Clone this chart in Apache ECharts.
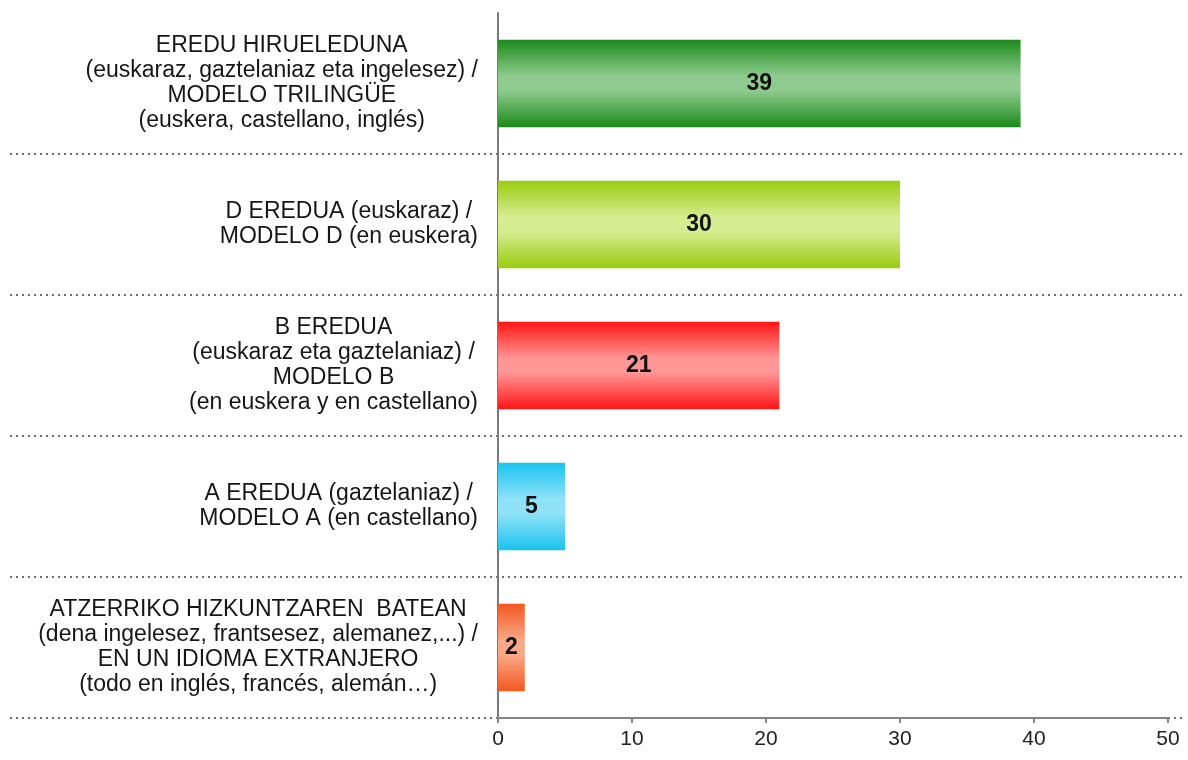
<!DOCTYPE html>
<html>
<head>
<meta charset="utf-8">
<script src="https://cdn.jsdelivr.net/npm/echarts@6/dist/echarts.min.js"></script>
<style>
  html, body { margin: 0; padding: 0; background: #ffffff; }
  #chart { width: 1188px; height: 760px; }
</style>
</head>
<body>
<div id="chart"></div>
<script>
// categorias (de arriba abajo)
var categories = [
  "EREDU HIRUELEDUNA\n(euskaraz, gaztelaniaz eta ingelesez) /\nMODELO TRILINGÜE\n(euskera, castellano, inglés)",
  "D EREDUA (euskaraz) /\nMODELO D (en euskera)",
  "B EREDUA\n(euskaraz eta gaztelaniaz) /\nMODELO B\n(en euskera y en castellano)",
  "A EREDUA (gaztelaniaz) /\nMODELO A (en castellano)",
  "ATZERRIKO HIZKUNTZAREN  BATEAN\n(dena ingelesez, frantsesez, alemanez,...) /\nEN UN IDIOMA EXTRANJERO\n(todo en inglés, francés, alemán…)"
];
var values = [39, 30, 21, 5, 2];
var xTicks = [0, 10, 20, 30, 40, 50];

// colores de borde / centro de cada barra
var edgeColors = ["#1b8a1b", "#99cc11", "#ff1515", "#19c3ef", "#f4571f"];
var midColors = ["#8fcb8f", "#d6ec90", "#ff9696", "#90e2f8", "#f9a888"];

function barGradient(i) {
  return new echarts.graphic.LinearGradient(0, 0, 0, 1, [
    { offset: 0, color: edgeColors[i] },
    { offset: 0.42, color: midColors[i] },
    { offset: 0.58, color: midColors[i] },
    { offset: 1, color: edgeColors[i] }
  ]);
}

var myChart = echarts.init(document.getElementById("chart"));

var option = {
  animation: false,
  grid: [
    { left: 498, right: 20, top: 13, bottom: 42 },
    // solo para las lineas punteadas a todo lo ancho
    { left: 10, right: 6, top: 13, bottom: 42 }
  ],
  xAxis: [
    {
      type: "value",
      gridIndex: 0,
      min: xTicks[0],
      max: xTicks[xTicks.length - 1],
      interval: 10,
      axisLine: { show: true, lineStyle: { color: "#858585", width: 2 } },
      axisTick: { show: true, length: 5, lineStyle: { color: "#858585", width: 2 } },
      axisLabel: { color: "#222222", fontSize: 21, fontFamily: "Liberation Sans, Arial", margin: 11 },
      splitLine: { show: false }
    },
    { type: "value", gridIndex: 1, show: false }
  ],
  yAxis: [
    {
      type: "category",
      gridIndex: 0,
      inverse: true,
      data: categories,
      axisLine: { show: true, lineStyle: { color: "#7a7a7a", width: 2 } },
      axisTick: { show: false },
      splitLine: { show: false },
      axisLabel: {
        align: "right",
        margin: 20,
        color: "#161616",
        fontFamily: "Liberation Sans, Arial",
        fontSize: 23,
        lineHeight: 25,
        formatter: function (v) {
          return v.split("\n").map(function (l) { return "{c|" + l + "}"; }).join("\n");
        },
        rich: {
          c: { align: "center", fontSize: 23, lineHeight: 25, color: "#161616", fontFamily: "Liberation Sans, Arial" }
        }
      }
    },
    {
      type: "category",
      gridIndex: 1,
      inverse: true,
      data: categories,
      axisLine: { show: false },
      axisTick: { show: false },
      axisLabel: { show: false },
      splitLine: {
        show: true,
        showMinLine: false,
        lineStyle: { color: "#6e6e6e", width: 2, type: [2, 4] }
      }
    }
  ],
  series: [
    {
      type: "bar",
      xAxisIndex: 0,
      yAxisIndex: 0,
      barWidth: "62%",
      data: values.map(function (v, i) {
        return { value: v, itemStyle: { color: barGradient(i) } };
      }),
      label: {
        show: true,
        position: "inside",
        color: "#111111",
        fontSize: 23,
        fontWeight: "bold",
        fontFamily: "Liberation Sans, Arial"
      },
      z: 3
    }
  ]
};

myChart.setOption(option);
window.addEventListener("resize", function () { myChart.resize(); });
</script>
</body>
</html>
